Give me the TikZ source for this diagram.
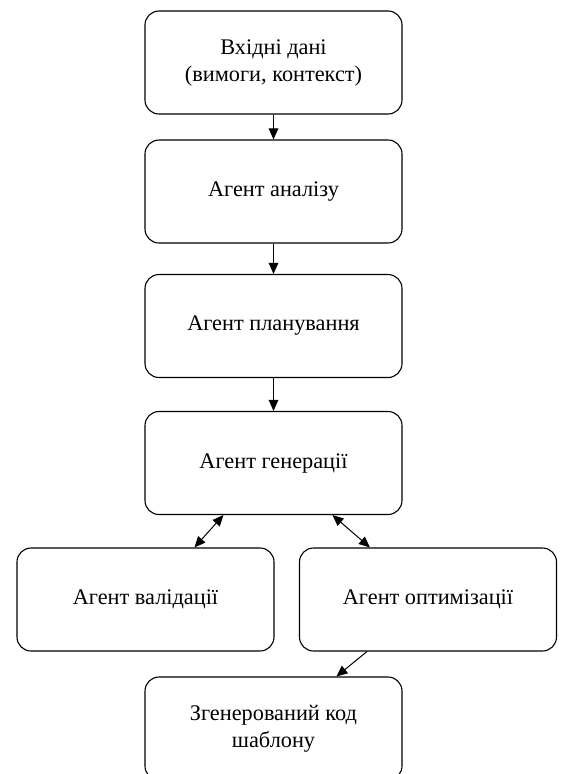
\documentclass[tikz,border=0pt]{standalone}
\usepackage{fontspec}
\setmainfont{Liberation Serif}
\usetikzlibrary{arrows.meta}
\begin{document}
\begin{tikzpicture}[x=1pt,y=1pt,
  agentbox/.style={draw=black, line width=1.1pt, rounded corners=14pt,
    minimum width=257pt, minimum height=103pt, align=center,
    font=\fontsize{22.3}{27}\selectfont, inner sep=0pt},
  flow/.style={line width=1pt, -{Triangle[length=11pt,width=9.5pt]}},
  flowboth/.style={line width=1pt, {Triangle[length=11pt,width=9.5pt]}-{Triangle[length=11pt,width=9.5pt]}}]
\useasboundingbox (0,0) rectangle (560,-774);
\fill[white] (0,0) rectangle (560,-774);
\node[agentbox] (in) at (273.5,-62.5) {Вхідні дані\\(вимоги, контекст)};
\node[agentbox] (an) at (273.5,-191.5) {Агент аналізу};
\node[agentbox] (pl) at (273.5,-326) {Агент планування};
\node[agentbox] (gen) at (273.5,-463) {Агент генерації};
\node[agentbox] (val) at (145.5,-599.5) {Агент валідації};
\node[agentbox] (opt) at (428,-599.5) {Агент оптимізації};
\node[agentbox] (out) at (273.5,-728.5) {Згенерований код\\шаблону};
\draw[flow] (in) -- (an);
\draw[flow] (an) -- (pl);
\draw[flow] (pl) -- (gen);
\draw[flowboth] ([xshift=79pt]gen.south west) -- ([xshift=178pt]val.north west);
\draw[flowboth] ([xshift=188pt]gen.south west) -- ([xshift=71pt]opt.north west);
\draw[flow] ([xshift=68pt]opt.south west) -- ([xshift=192pt]out.north west);
\end{tikzpicture}
\end{document}
